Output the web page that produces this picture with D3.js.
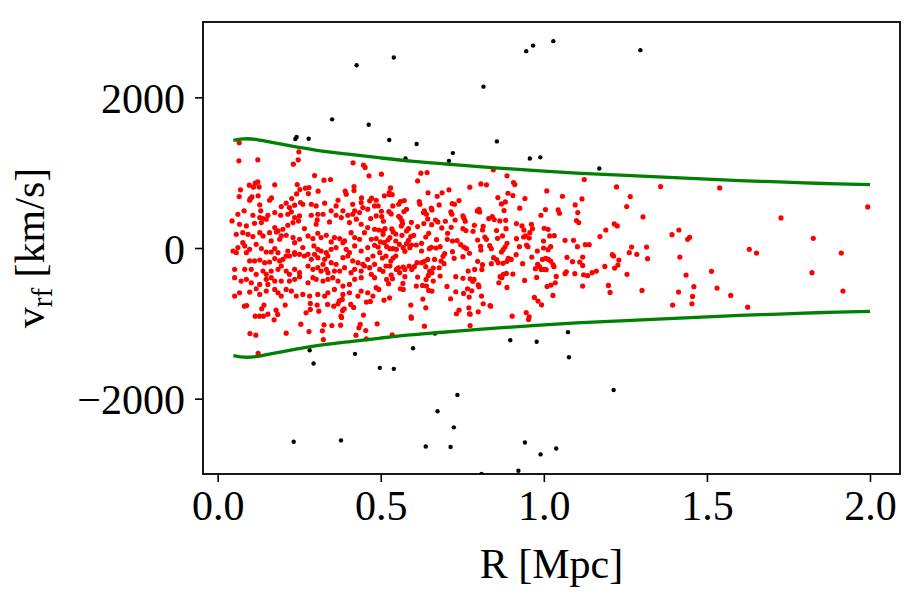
<!DOCTYPE html>
<html><head><meta charset="utf-8">
<script src="https://cdn.jsdelivr.net/npm/d3@7"></script>
<style>
body{margin:0;background:#fff}
text{font-family:"Liberation Serif","Times New Roman",serif;fill:#000}
</style>
</head><body>
<svg id="chart" width="923" height="600"></svg>
<script>
// Members (red): [R (Mpc), v_rf (km/s)]
const members = [
[0.066,1397],[0.249,1277],
[0.065,1157],[0.123,1171],[0.232,1113],[0.247,1171],[0.415,1131],[0.447,1100],[0.452,1069],[0.464,958],[0.502,980],[0.613,891],[0.297,962],[0.326,900],[0.346,909],[0.175,838],[0.244,842],[0.269,794],[0.280,803],[0.252,776],[0.242,718],[0.278,723],[0.308,754],[0.097,834],[0.115,860],[0.123,878],[0.110,807],[0.127,811],[0.070,772],[0.066,683],[0.100,656],[0.105,678],[0.124,692],[0.165,665],[0.227,656],[0.391,754],[0.394,714],[0.418,816],[0.418,763],[0.441,665],[0.472,661],
[0.492,559],[0.511,692],[0.526,736],[0.530,798],[0.526,709],[0.535,709],[0.537,559],[0.560,616],[0.555,581],[0.572,630],[0.579,514],[0.618,616],[0.571,483],[0.525,483],[0.532,452],[0.502,488],[0.503,417],[0.508,355],[0.555,421],[0.560,399],[0.565,359],[0.567,324],[0.563,293],[0.594,341],[0.613,284],[0.585,257],[0.579,226],[0.565,168],[0.546,186],[0.538,213],[0.534,253],[0.513,257],[0.507,226],[0.507,182],[0.494,239],
[0.207,-758],[0.179,-825],[0.184,-882],[0.154,-878],[0.135,-807],[0.142,-758],[0.140,-905],[0.128,-905],[0.115,-905],[0.089,-763],[0.082,-772],[0.284,-736],[0.305,-758],[0.337,-749],[0.356,-772],[0.369,-740],[0.373,-701],[0.388,-807],[0.408,-749],[0.417,-789],[0.378,-905],[0.447,-891],[0.456,-718],[0.468,-709],[0.382,-683],
[0.494,-550],[0.510,-692],[0.527,-661],[0.560,-541],[0.569,-550],[0.568,-470],[0.592,-758],[0.593,-913],[0.497,-62],[0.505,-133],[0.516,-106],[0.497,-284],[0.507,-310],[0.516,-239],[0.528,-239],[0.531,-173],[0.538,-133],[0.546,-106],[0.548,-18],[0.538,-9],[0.528,-9],[0.518,18],[0.492,13],[0.499,80],[0.511,71],[0.522,106],[0.528,137],[0.546,93],[0.557,49],[0.569,4],[0.574,-44],[0.589,4],[0.594,40],[0.609,40],[0.601,168],[0.592,151],[0.585,102],[0.579,58],[0.548,-284],[0.554,-262],[0.558,-328],[0.569,-253],[0.574,-284],[0.587,-239],[0.595,-284],[0.603,-248],[0.611,-195],[0.613,-386],[0.574,-381],[0.532,-359],[0.536,-408],[0.518,-417],[0.524,-474],[0.609,-505],
[0.098,634],[0.129,573],[0.159,634],[0.195,550],[0.210,595],[0.220,537],[0.236,568],[0.254,604],[0.261,581],[0.287,581],[0.302,559],[0.328,595],[0.369,634],[0.363,559],[0.414,581],[0.440,604],[0.445,537],[0.466,626],[0.481,559],[0.486,634],
[0.062,448],[0.081,493],[0.108,435],[0.132,493],[0.129,404],[0.139,391],[0.154,435],[0.175,470],[0.193,435],[0.215,448],[0.226,480],[0.236,404],[0.251,426],[0.287,435],[0.307,448],[0.305,373],[0.323,448],[0.348,493],[0.363,435],[0.384,493],[0.399,435],[0.414,448],[0.420,493],[0.435,470],[0.460,515],[0.469,391],[0.486,426],
[0.044,360],[0.067,315],[0.088,293],[0.113,328],[0.134,337],[0.149,382],[0.175,271],[0.185,227],[0.200,249],[0.215,302],[0.231,337],[0.248,360],[0.266,258],[0.302,315],[0.343,346],[0.379,404],[0.404,337],[0.425,382],[0.440,315],[0.460,271],[0.481,249],
[0.057,182],[0.077,204],[0.093,182],[0.108,151],[0.129,204],[0.139,160],[0.159,204],[0.180,213],[0.195,160],[0.190,116],[0.164,94],[0.210,169],[0.231,138],[0.236,71],[0.251,116],[0.277,160],[0.292,125],[0.307,196],[0.317,138],[0.333,169],[0.348,80],[0.358,138],[0.374,125],[0.389,94],[0.409,204],[0.420,138],[0.435,116],[0.450,204],[0.471,116],[0.486,125],
[0.047,-40],[0.062,5],[0.077,71],[0.083,27],[0.098,-17],[0.118,49],[0.134,-8],[0.149,-53],[0.164,-53],[0.175,-8],[0.185,-62],[0.210,-106],[0.215,-40],[0.236,-62],[0.261,5],[0.277,-84],[0.295,27],[0.307,-17],[0.317,-40],[0.333,-62],[0.348,-17],[0.363,5],[0.384,71],[0.394,-17],[0.404,-62],[0.420,27],[0.440,-40],[0.460,5],[0.481,36],
[0.057,-62],[0.088,-62],[0.098,-172],[0.113,-172],[0.129,-159],[0.144,-195],[0.159,-186],[0.175,-141],[0.190,-172],[0.200,-150],[0.220,-106],[0.236,-84],[0.251,-84],[0.266,-106],[0.287,-150],[0.297,-84],[0.307,-128],[0.328,-150],[0.338,-106],[0.323,-217],[0.348,-195],[0.363,-217],[0.384,-128],[0.399,-106],[0.414,-172],[0.430,-195],[0.445,-217],[0.460,-150],[0.476,-106],
[0.052,-283],[0.083,-283],[0.103,-283],[0.118,-350],[0.139,-306],[0.149,-350],[0.164,-306],[0.185,-283],[0.195,-239],[0.210,-306],[0.220,-350],[0.236,-283],[0.251,-328],[0.277,-239],[0.292,-283],[0.307,-261],[0.317,-306],[0.333,-283],[0.338,-328],[0.358,-306],[0.374,-306],[0.389,-261],[0.409,-328],[0.420,-283],[0.440,-306],[0.450,-239],[0.466,-261],[0.481,-217],
[0.052,-394],[0.072,-439],[0.088,-416],[0.103,-461],[0.129,-483],[0.149,-416],[0.154,-483],[0.164,-394],[0.175,-439],[0.195,-439],[0.220,-439],[0.236,-416],[0.251,-381],[0.277,-461],[0.292,-394],[0.302,-416],[0.323,-439],[0.338,-416],[0.353,-394],[0.369,-439],[0.384,-505],[0.404,-483],[0.420,-416],[0.440,-394],[0.471,-350],[0.481,-394],
[0.052,-638],[0.067,-594],[0.098,-585],[0.118,-541],[0.129,-616],[0.149,-572],[0.175,-550],[0.185,-594],[0.195,-638],[0.210,-550],[0.226,-572],[0.241,-638],[0.261,-616],[0.282,-638],[0.307,-616],[0.328,-638],[0.338,-594],[0.358,-550],[0.384,-616],[0.404,-594],[0.430,-638],[0.440,-572],[0.460,-594],[0.476,-638],[0.486,-527],
[0.623,993],[0.642,1002],[0.845,1038],[0.887,958],[1.124,909],[1.223,811],[0.807,851],[0.824,838],[0.907,869],[0.911,842],[0.773,807],[0.709,772],[0.645,732],[0.688,732],[0.673,687],[1.009,758],[1.057,687],[1.265,683],[1.117,652],[0.859,670],[0.890,727],[0.905,696],[0.740,630],[0.942,656],[0.882,612],[0.870,585],[0.719,590],[0.726,581],[0.655,528],[0.657,505],[0.634,492],[0.620,581],[0.679,572],[0.631,470],[0.640,448],[0.801,514],[0.796,492],[0.803,479],[0.878,497],[0.926,528],[1.005,510],[1.096,572],[1.044,505],[1.048,461],[1.104,470],[1.254,550],[0.715,479],[0.718,448],[0.752,426],[0.755,395],[0.759,355],[0.644,386],[0.668,372],[0.675,346],[0.698,355],[0.728,372],[0.831,390],[0.842,417],[0.848,377],[0.865,359],[0.883,368],[0.991,435],[1.100,364],[1.107,337],[1.304,412],[1.216,319],[1.225,293],[1.190,239],[1.172,151],[0.632,324],[0.656,310],[0.687,266],[0.716,275],[0.752,257],[0.761,231],[0.783,222],[0.787,302],[0.814,288],[0.812,239],[0.855,231],[0.884,257],[0.916,324],[0.933,293],[0.939,239],[0.962,315],[0.965,257],[1.001,262],[1.013,248],[0.647,195],[0.638,146],[0.671,111],[0.625,62],[0.705,195],[0.704,115],[0.720,93],[0.734,98],[0.745,44],[0.755,13],[0.763,-9],[0.819,146],[0.824,115],[0.797,106],[0.858,129],[0.873,160],[0.887,62],[0.916,124],[0.938,146],[0.944,160],[0.955,133],[0.957,204],[0.999,93],[1.018,160],[1.032,164],[1.065,102],[1.091,102],[1.127,44],[1.139,44],[1.103,18],[1.021,18],[1.013,-22],[0.999,0],[0.655,9],[0.625,-40],[0.649,-9],[0.669,0],[0.682,18],[0.696,-75],[0.691,-111],[0.720,-49],[0.752,-115],[0.725,-137],[0.772,-71],[0.806,22],[0.807,-27],[0.834,31],[0.839,-9],[0.870,-53],[0.875,-22],[0.881,13],[0.915,-89],[0.925,18],[0.947,40],[0.951,18],[0.980,-40],[1.269,13],[1.315,13],[1.262,-62],[1.285,-84],[1.318,-142],[1.210,-89],[1.214,-106],[1.230,-160],[1.227,-226],[1.217,-266],[1.187,-244],[1.119,-120],[1.071,-124],[1.088,-182],[1.110,-186],[1.148,-328],[1.161,-306],[1.119,-231],[1.095,-341],[1.065,-341],[1.069,-315],[1.134,-368],[1.122,-355],[1.006,-137],[1.014,-151],[1.021,-173],[0.996,-151],[0.963,-120],[0.981,-217],[0.987,-248],[0.974,-275],[1.001,-284],[1.028,-222],[1.031,-248],[1.038,-377],[1.007,-288],[0.992,-284],[0.935,-208],[0.941,-430],[0.900,-151],[0.891,-137],[0.887,-177],[0.875,-204],[0.860,-195],[0.855,-155],[0.846,-129],[0.812,-222],[0.810,-284],[0.788,-284],[0.768,-306],[0.797,-177],[0.839,-208],[0.665,-151],[0.644,-151],[0.634,-177],[0.625,-195],[0.638,-248],[0.685,-173],[0.694,-208],[0.679,-262],[0.661,-266],[0.650,-306],[0.657,-328],[0.646,-364],[0.682,-372],[0.639,-417],[0.661,-439],[0.730,-381],[0.752,-403],[0.774,-408],[0.786,-417],[0.782,-443],[0.799,-488],[0.801,-514],[0.866,-381],[0.871,-395],[0.876,-350],[0.885,-337],[0.905,-346],[0.862,-461],[0.887,-523],[0.978,-390],[1.010,-510],[1.022,-492],[1.035,-461],[1.119,-505],[1.198,-497],[1.203,-590],[1.301,-563],[1.255,-350],[0.628,-497],[0.640,-505],[0.647,-563],[0.657,-572],[0.703,-510],[0.730,-581],[0.754,-603],[0.766,-541],[0.779,-568],[0.771,-652],[0.809,-638],[0.814,-740],[0.835,-763],[0.837,-772],[0.799,-847],[0.770,-794],[0.772,-873],[0.740,-825],[0.732,-873],[0.714,-674],[0.629,-678],[0.638,-794],[1.028,-630],[0.971,-656],[0.982,-705],[0.993,-754],[0.903,-905],[0.946,-856],[0.955,-913],
[1.358,816],[1.539,798],[1.727,399],[1.993,545],[1.393,177],[1.414,239],[1.441,115],[1.447,142],[1.826,129],[1.630,-18],[1.652,-67],[1.912,-67],[1.417,-120],[1.514,-310],[1.436,-359],[1.822,-328],[1.460,-514],[1.531,-532],[1.413,-585],[1.456,-643],[1.573,-630],[1.917,-572],[1.395,-758],[1.454,-740],[1.625,-785],
[0.099,-1135],[0.117,-1157],[0.124,-1397],[0.173,-953],[0.210,-1131],[0.255,-1011],[0.280,-1109],[0.321,-1100],[0.324,-1215],[0.326,-1020],[0.350,-1029],[0.377,-1024],[0.424,-1157],[0.433,-1060],[0.437,-1015],[0.454,-1095],[0.456,-1206],[0.489,-1007],[0.535,-1153],[0.634,-1038],
[0.271,-860],[0.284,-816],[0.310,-838],[0.380,-922],[0.383,-829],[0.594,-931],
[0.774,-1029],[0.953,-949],[0.774,-878]
];

// Interlopers (black): [R (Mpc), v_rf (km/s)]
const interlopers = [
[0.426,2426],[0.540,2528],[0.351,1708],[0.463,1636],[0.238,1446],[0.242,1473],[0.279,1450],[0.526,1433],[0.610,1380],[0.576,1189],
[0.815,2142],[0.946,2613],[0.967,2687],[1.029,2746],[1.296,2626],[0.856,1415],[0.721,1260],[0.709,1157],[0.957,1189],[0.989,1203],[1.170,1056],
[0.282,-1357],[0.294,-1534],[0.421,-1405],[0.497,-1591],[0.540,-1604],[0.599,-1330],[0.233,-2571],[0.378,-2554],[0.638,-2634],
[0.666,-1135],[0.897,-1224],[0.978,-1245],[1.074,-1117],[1.077,-1450],[1.214,-1884],[0.735,-1950],[0.674,-2168],[0.724,-2381],[0.714,-2642],[0.942,-2581],[0.990,-2740],[1.038,-2661],[0.922,-2957],[0.809,-3000]
];

// Caustic amplitude (upper = +A, lower = -A)
const causticR = [0.048,0.07,0.09,0.12,0.15,0.2,0.25,0.3,0.4,0.5,0.6,0.7,0.8,0.9,1.0,1.1,1.2,1.3,1.4,1.5,1.6,1.7,1.8,1.9,2.0];
const causticA = [1430,1445,1450,1440,1415,1375,1335,1300,1245,1195,1150,1115,1080,1050,1020,995,975,955,935,915,895,880,865,850,840];

const xTicks = [0, 0.5, 1.0, 1.5, 2.0];
const xTickLabels = ["0.0","0.5","1.0","1.5","2.0"];
const yTicks = [-2000, 0, 2000];
const yTickLabels = ["\u22122000","0","2000"];

const W = 923, H = 600;
const M = {left: 203, right: 900, top: 22, bottom: 474};
const svg = d3.select("#chart");
svg.append("rect").attr("width",W).attr("height",H).attr("fill","#fff");

const x = d3.scaleLinear().domain([-0.045, 2.092]).range([M.left, M.right]);
const y = d3.scaleLinear().domain([-3000, 3000]).range([M.bottom, M.top]);

svg.append("clipPath").attr("id","clip").append("rect")
  .attr("x",M.left).attr("y",M.top).attr("width",M.right-M.left).attr("height",M.bottom-M.top);

const plot = svg.append("g").attr("clip-path","url(#clip)");

plot.append("g").selectAll("circle").data(members).join("circle")
  .attr("cx",d=>x(d[0])).attr("cy",d=>y(d[1])).attr("r",2.6).attr("fill","#ff0000");
plot.append("g").selectAll("circle").data(interlopers).join("circle")
  .attr("cx",d=>x(d[0])).attr("cy",d=>y(d[1])).attr("r",2.2).attr("fill","#000");

const cu = causticR.map((r,i)=>[r, causticA[i]]);
const cl = causticR.map((r,i)=>[r, -causticA[i]]);
const line = d3.line().x(d=>x(d[0])).y(d=>y(d[1])).curve(d3.curveMonotoneX);
[cu, cl].forEach(c => plot.append("path").attr("d", line(c))
  .attr("fill","none").attr("stroke","#008000").attr("stroke-width",3.3));

// axes
const xAxis = d3.axisBottom(x).tickValues(xTicks).tickFormat((d,i)=>xTickLabels[i]).tickSize(8).tickPadding(8);
const gx = svg.append("g").attr("transform",`translate(0,${M.bottom})`).call(xAxis);
const yAxis = d3.axisLeft(y).tickValues(yTicks).tickFormat((d,i)=>yTickLabels[i]).tickSize(8).tickPadding(10);
const gy = svg.append("g").attr("transform",`translate(${M.left},0)`).call(yAxis);
[gx, gy].forEach(g => {
  g.select(".domain").remove();
  g.selectAll(".tick line").attr("stroke","#000").attr("stroke-width",1.6);
  g.selectAll(".tick text").attr("font-family","Liberation Serif, serif").attr("font-size",42).attr("fill","#000");
});
gx.selectAll(".tick text").attr("dy","0.72em");
gy.selectAll(".tick text").attr("dy","0.36em");

svg.append("rect").attr("x",M.left).attr("y",M.top).attr("width",M.right-M.left).attr("height",M.bottom-M.top)
  .attr("fill","none").attr("stroke","#000").attr("stroke-width",1.8);

// axis labels
svg.append("text").attr("x",(M.left+M.right)/2).attr("y",578).attr("text-anchor","middle")
  .attr("font-size",42).text("R [Mpc]");
const yl = svg.append("text").attr("transform",`translate(44,${(M.top+M.bottom)/2}) rotate(-90)`)
  .attr("text-anchor","middle").attr("font-size",42);
yl.append("tspan").text("v");
yl.append("tspan").attr("font-size",29).attr("dy",8).text("rf");
yl.append("tspan").attr("dy",-8).text(" [km/s]");
</script>
</body></html>
